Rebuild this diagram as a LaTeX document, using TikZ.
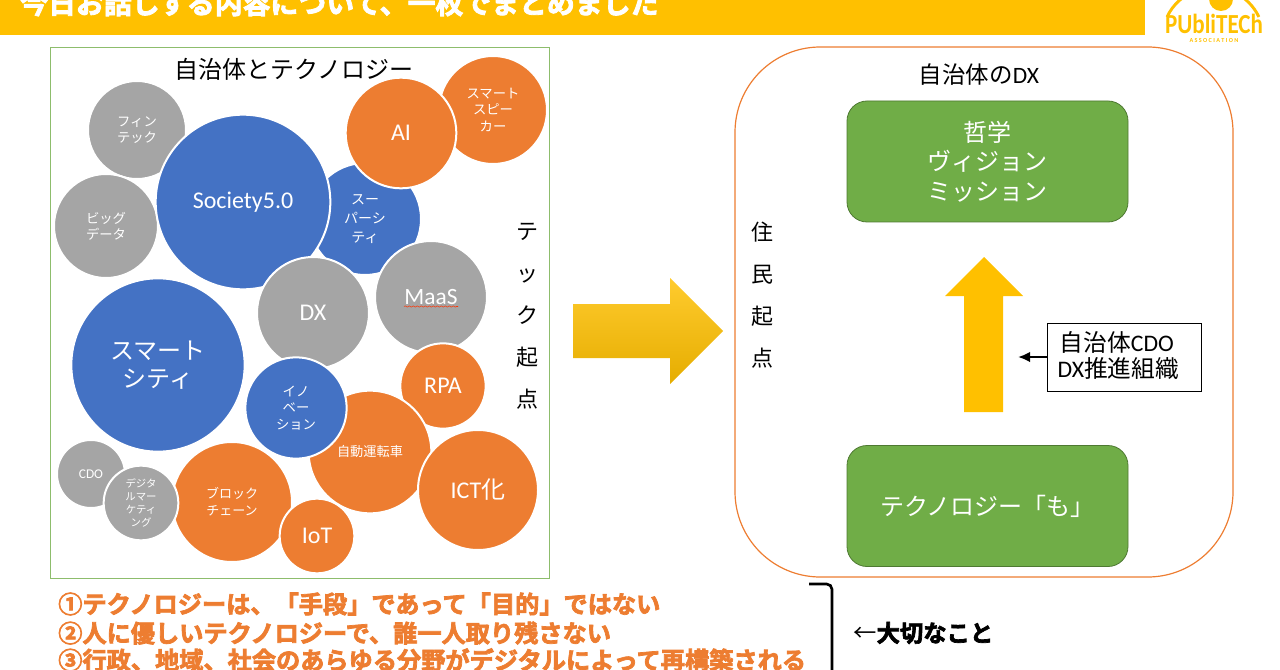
\documentclass[tikz,border=0pt]{standalone}
\usepackage{fontspec}
\usetikzlibrary{decorations.pathmorphing,shadings,arrows.meta}
\setmainfont{Noto Sans CJK JP}
\newfontfamily\lat{Carlito}
\newfontfamily\heavy[FakeBold=3]{Noto Sans CJK JP Bold}
\newcommand{\fs}[2]{\fontsize{#1}{#2}\selectfont}
\newcommand{\latlow}[1]{\raisebox{-1.1pt}{\lat #1}}
\definecolor{goldc}{HTML}{FFC000}
\definecolor{blu}{HTML}{4472C4}
\definecolor{org}{HTML}{ED7D31}
\definecolor{gry}{HTML}{A5A5A5}
\definecolor{grn}{HTML}{70AD47}
\tikzset{
 x=0.75pt,y=-0.75pt,
 bub/.style n args={2}{circle,draw=white,line width=1.5pt,inner sep=0pt,align=center,text=white,font=\fs{#1}{#2}},
 green box/.style={draw=grn!70!black,line width=.6pt,fill=grn,rounded corners=15pt,text=white,align=center,minimum width=210.75pt,minimum height=90.75pt,inner sep=0pt},
 vtext/.style={align=center,inner sep=0pt,text=black},
 orange line/.style={anchor=west,inner sep=0pt,text=org,font=\heavy\fs{18.15}{18.15}},
}
\begin{document}
\begin{tikzpicture}
\useasboundingbox (0,0) rectangle (1280,670);
\clip (0,0) rectangle (1280,670);
\fill[goldc] (0,0) rectangle (1145,35.5);
\node[anchor=west,inner sep=0pt,text=white,font=\heavy\fs{20.9}{20.9}] (title) at (20,3) {今日お話しする内容について、一枚でまとめました};
% logo
\draw[goldc,line width=2.2pt] (1167,17) arc (205:335:50.7);
\fill[goldc] (1221,-1) circle (12);
\node[inner sep=0pt,text=goldc,font=\fs{18}{18}\lat\bfseries,xscale=.96,yscale=1.15] (logo) at (1214,24) {PUbliTECh};
\node[inner sep=0pt,text=goldc,font=\fs{4.6}{4.6}\lat\bfseries] (assoc) at (1214,40.5) {A S S O C I A T I O N};
% left panel
\draw[grn!80!white,line width=.7pt] (50,47) rectangle (549,578);
\node[inner sep=0pt,font=\fs{18}{18}] (t1) at (294,69) {自治体とテクノロジー};
\node[bub={10}{12},fill=gry,minimum size=73.5pt] (fin) at (137,130) {フィン\\テック};
\node[bub={10}{12},fill=gry,minimum size=78pt] (big) at (106,226) {ビッグ\\データ};
\node[bub={10.5}{14.2},fill=blu,minimum size=84pt] (sup) at (365,219) {スー\\パーシ\\ティ};
\node[bub={18}{18},fill=blu,minimum size=131pt] (soc) at (243,202) {\latlow{Society5.0}};
\node[bub={10}{12.5},fill=org,minimum size=81pt] (spk) at (493,110) {スマート\\スピー\\カー};
\node[bub={18}{18},fill=org,minimum size=83pt] (ai) at (401,133) {\latlow{AI}};
\node[bub={18}{18},fill=gry,minimum size=84pt] (dx) at (313,313) {\latlow{DX}};
\node[bub={17.5}{18},fill=gry,minimum size=84pt] (maas) at (431,297) {\lat MaaS};
\node[bub={18}{21},fill=blu,minimum size=130pt] (sc) at (158,365) {スマート\\シティ};
\node[bub={18}{18},fill=org,minimum size=64pt] (rpa) at (443,386) {\lat RPA};
\node[bub={9.9}{12},fill=org,minimum size=92pt] (car) at (370,452) {自動運転車};
\node[bub={10}{12.5},fill=blu,minimum size=76pt] (ino) at (296,408) {イノ\\ベー\\ション};
\node[bub={18}{18},fill=org,minimum size=90pt] (ict) at (478,490) {\lat ICT\rmfamily 化};
\node[bub={10}{12},fill=gry,minimum size=51pt] (cdo) at (91,474) {\lat CDO};
\node[bub={9.75}{12.7},fill=org,minimum size=90pt] (blk) at (232,502) {ブロック\\チェーン};
\node[bub={7.8}{9.8},fill=gry,minimum size=56pt] (dig) at (141,503) {デジタ\\ルマー\\ケティ\\ング};
\node[bub={18}{18},fill=org,minimum size=56pt] (iot) at (317,536) {\latlow{IoT}};
\draw[red!60!orange,line width=.4pt,decorate,decoration={snake,amplitude=.5pt,segment length=3pt}] (404,306.5) -- (458,306.5);
\node[vtext,font=\fs{16.5}{31.5}] (tech) at (527,316) {テ\\ッ\\ク\\起\\点};
% big arrow
\path[top color=goldc!82!white,middle color=goldc,bottom color=goldc!90!black,shading angle=0]
  (573,304) -- (670,304) -- (670,278) -- (723,331) -- (670,384) -- (670,358) -- (573,358) -- cycle;
% right panel
\draw[org,line width=.9pt,rounded corners=64pt] (735,47) rectangle (1233,577);
\node[inner sep=0pt,font=\fs{17.6}{17.6}] (t2) at (979,75) {自治体の{\lat DX}};
\node[vtext,font=\fs{16.5}{31.5}] (jm) at (762,295) {住\\民\\起\\点};
\node[green box,font=\fs{18}{22}] (top) at (987.5,161.5) {哲学\\ヴィジョン\\ミッション};
\node[green box,font=\fs{18}{22.5}] (bot) at (987.5,506) {テクノロジー「も」};
\fill[goldc] (984,257) -- (1023,296) -- (1003,296) -- (1003,412) -- (964,412) -- (964,296) -- (945,296) -- cycle;
\node[draw=black,line width=.5pt,inner sep=0pt,minimum width=115.5pt,minimum height=51pt] (cdobox) at (1124,357) {};
\node[inner sep=0pt,text width=110pt,align=left,font=\fs{17.8}{20}] (cdotext) at (1131,355.5) {\hspace{1.5pt}自治体{\lat CDO}\\{\lat DX}推進組織};
\coordinate (cdoend) at (1018,357);
\draw[-{Latex[length=9pt,width=8pt]},line width=1.8pt] (cdobox.west) -- (cdoend);
% bottom
\node[orange line] (l1) at (58,604) {①テクノロジーは、「手段」であって「目的」ではない};
\node[orange line] (l2) at (58,633) {②人に優しいテクノロジーで、誰一人取り残さない};
\node[orange line] (l3) at (58,660) {③行政、地域、社会のあらゆる分野がデジタルによって再構築される};
\coordinate (br1) at (809,584);
\coordinate (br2) at (832,584);
\coordinate (br3) at (832,675);
\draw[line width=2pt,rounded corners=4pt] (br1) -- (br2) -- (br3);
\node[anchor=west,inner sep=0pt,font=\fs{17.5}{17.5}] (imp) at (853,633) {←{\heavy 大切なこと}};
\end{tikzpicture}
\end{document}
